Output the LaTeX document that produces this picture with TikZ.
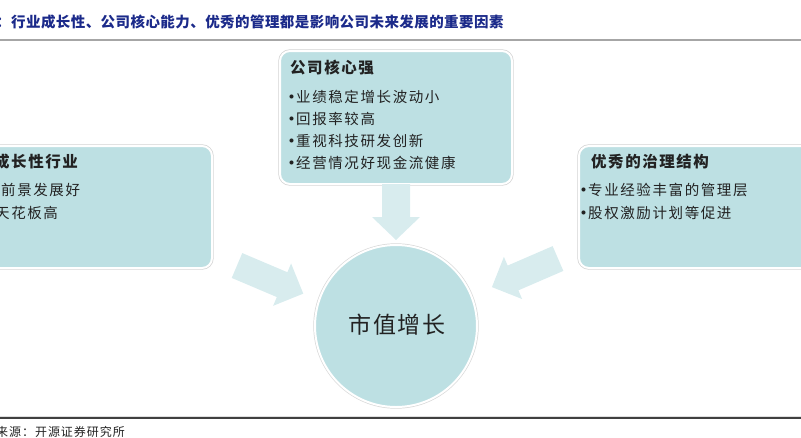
\documentclass[tikz,border=0pt]{standalone}
\usepackage{fontspec}
\setmainfont{Noto Sans CJK SC}
\usetikzlibrary{positioning}
\definecolor{boxfill}{HTML}{BDE0E3}
\definecolor{arrowfill}{HTML}{D8ECEE}
\definecolor{titleblue}{HTML}{1B2A8A}
\definecolor{txt}{HTML}{222222}
\newcommand\mybul{\makebox[9pt][c]{\bfseries •}}
\tikzset{
  framebox/.style={rectangle, rounded corners=10pt, fill=boxfill, draw=white, line width=2pt,
    preaction={draw=gray!35, line width=3.4pt}, inner sep=0pt},
  framecircle/.style={circle, fill=boxfill, draw=white, line width=2pt,
    preaction={draw=gray!30, line width=3.4pt}, inner sep=0pt},
  headtext/.style={anchor=west, inner sep=0pt, text=txt, font=\fontsize{15.5}{18}\selectfont\bfseries\addfontfeatures{LetterSpace=10}},
  itemtext/.style={anchor=west, inner sep=0pt, text=txt, font=\fontsize{14.5}{18}\selectfont\addfontfeatures{LetterSpace=11}},
  blockarrow/.style={fill=arrowfill}
}
\begin{document}
\begin{tikzpicture}[x=1pt,y=1pt]
\useasboundingbox (0,0) rectangle (801,-437);
\clip (0,0) rectangle (801,-437);
% title
\node[anchor=west, inner sep=0pt, text=titleblue, font=\fontsize{14.5}{17}\selectfont\bfseries\addfontfeatures{LetterSpace=3}] (title) at (-4,-22) {：行业成长性、公司核心能力、优秀的管理都是影响公司未来发展的重要因素};
\draw[gray!70, line width=1.6pt] (0,-40) -- (801,-40);
% boxes
\node[framebox, minimum width=232pt, minimum height=133pt] (top) at (396,-117.5) {};
\node[framebox, minimum width=232pt, minimum height=122pt] (left) at (96,-207) {};
\node[framebox, minimum width=232pt, minimum height=122pt] (right) at (695,-207) {};
% top box text
\node[headtext] (th) at (290,-68) {公司核心强};
\node[itemtext] (t1) at (287,-97) {\mybul 业绩稳定增长波动小};
\node[itemtext] (t2) at (287,-119) {\mybul 回报率较高};
\node[itemtext] (t3) at (287,-141) {\mybul 重视科技研发创新};
\node[itemtext] (t4) at (287,-163) {\mybul 经营情况好现金流健康};
% left box text
\node[headtext] (lh) at (-6,-162) {成长性行业};
\node[itemtext] (l1) at (-8,-190) {\mybul 前景发展好};
\node[itemtext] (l2) at (-14,-213) {\mybul 天花板高};
% right box text
\node[headtext] (rh) at (591,-162) {优秀的治理结构};
\node[itemtext] (r1) at (579,-190) {\mybul 专业经验丰富的管理层};
\node[itemtext] (r2) at (579,-213) {\mybul 股权激励计划等促进};
% circle
\node[framecircle, minimum size=162pt] (mv) at (396,-326) {};
\node[inner sep=0pt, text=txt, font=\fontsize{23}{26}\selectfont\addfontfeatures{LetterSpace=8}] (mvt) at (397,-325) {市值增长};
% block arrows
\begin{scope}[shift={(396,-184)}, rotate=-90]
  \fill[blockarrow] (0,-14) -- (33,-14) -- (33,-24) -- (56,0) -- (33,24) -- (33,14) -- (0,14) -- cycle;
\end{scope}
\begin{scope}[shift={(237,-265.5)}, rotate=-23]
  \fill[blockarrow] (0,-13.5) -- (49,-13.5) -- (49,-23) -- (72,0) -- (49,23) -- (49,13.5) -- (0,13.5) -- cycle;
\end{scope}
\begin{scope}[shift={(558,-258.5)}, rotate=203.4]
  \fill[blockarrow] (0,-13.5) -- (49,-13.5) -- (49,-23) -- (72,0) -- (49,23) -- (49,13.5) -- (0,13.5) -- cycle;
\end{scope}
% footer
\draw[gray!25, line width=0.8pt] (0,-416.5) -- (801,-416.5);
\draw[black!75, line width=1.4pt] (0,-418) -- (801,-418);
\node[anchor=west, inner sep=0pt, text=txt, font=\fontsize{12}{14}\selectfont\addfontfeatures{LetterSpace=8}] (src) at (-4,-432) {来源：开源证券研究所};
\end{tikzpicture}
\end{document}
